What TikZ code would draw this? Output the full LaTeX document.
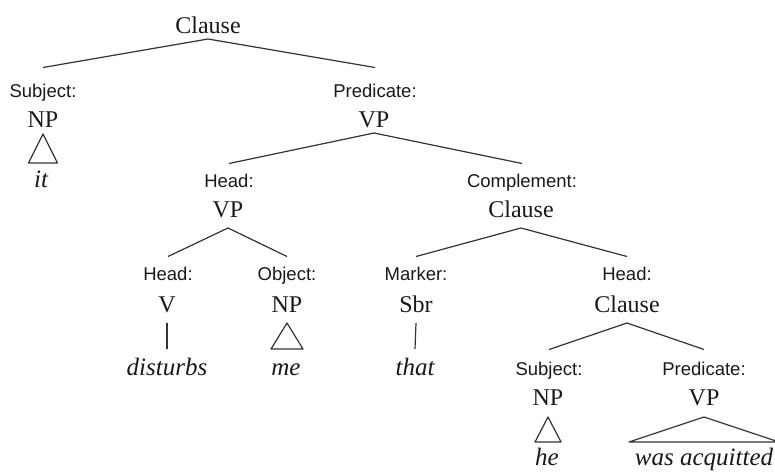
\documentclass[tikz,border=0pt]{standalone}
\usepackage{fontspec}
\setmainfont{Liberation Serif}
\newfontfamily\labfont{Liberation Sans}
\begin{document}
\begin{tikzpicture}[x=1pt,y=-1pt,
  cat/.style={font=\fontsize{24}{28}\selectfont, inner sep=0pt, anchor=base, text=black!90},
  lab/.style={font=\labfont\fontsize{18.5}{22}\selectfont, inner sep=0pt, anchor=base, text height=13.3pt, text=black!90},
  wrd/.style={font=\fontsize{25}{30}\selectfont\itshape, inner sep=0pt, anchor=base, text height=17pt, text=black!90},
  edge/.style={line width=1.2pt, draw=black!80, line join=round}]
\useasboundingbox (0,0) rectangle (775,471);

\node[cat] (A) at (208,33) {Clause};
\node[lab] (Bl) at (43,97) {Subject:};
\node[cat] (B) at (43,127) {NP};
\node[wrd] (Bw) at (41,187) {it};
\node[lab] (Cl) at (375,97) {Predicate:};
\node[cat] (C) at (374,127) {VP};
\node[lab] (Dl) at (229,187) {Head:};
\node[cat] (D) at (228,217) {VP};
\node[lab] (El) at (522,187) {Complement:};
\node[cat] (E) at (521,217) {Clause};
\node[lab] (Fl) at (168,280) {Head:};
\node[cat] (F) at (167,312) {V};
\node[wrd] (Fw) at (167,375) {disturbs};
\node[lab] (Gl) at (287,280) {Object:};
\node[cat] (G) at (287,312) {NP};
\node[wrd] (Gw) at (286,375) {me};
\node[lab] (Hl) at (416,280) {Marker:};
\node[cat] (H) at (416,312) {Sbr};
\node[wrd] (Hw) at (415,375) {that};
\node[lab] (Il) at (627,280) {Head:};
\node[cat] (I) at (627,312) {Clause};
\node[lab] (Jl) at (549,375) {Subject:};
\node[cat] (J) at (548,405) {NP};
\node[wrd] (Jw) at (547,465) {he};
\node[lab] (Kl) at (704,375) {Predicate:};
\node[cat] (K) at (704,405) {VP};
\node[wrd] (Kw) at (704,465) {was acquitted};

\draw[edge] ([yshift=16pt]Bl.north) -- ([yshift=-6pt]A.base) -- ([yshift=16pt]Cl.north);
\draw[edge] ([yshift=10pt]Dl.north) -- ([yshift=-6pt]C.base) -- ([yshift=10pt]El.north);
\draw[edge] ([yshift=10pt]Fl.north) -- ([yshift=-11pt]D.base) -- ([yshift=10pt]Gl.north);
\draw[edge] ([yshift=10pt]Hl.north) -- ([yshift=-11pt]E.base) -- ([yshift=10pt]Il.north);
\draw[edge] ([yshift=12pt]Jl.north) -- ([yshift=-11pt]I.base) -- ([yshift=12pt]Kl.north);

\draw[edge] ([yshift=-11pt]F.base) -- ([yshift=9pt]Fw.north);
\draw[edge] ([yshift=-11pt]H.base) -- ([yshift=9pt]Hw.north);

\draw[edge] ([yshift=-7pt]B.base) -- ++(-14.5,29) -- ++(29,0) -- cycle;
\draw[edge] ([yshift=-11pt]G.base) -- ++(-16,26) -- ++(32,0) -- cycle;
\draw[edge] ([yshift=-12pt]J.base) -- ++(-13,25) -- ++(26,0) -- cycle;
\draw[edge] ([yshift=-12pt]K.base) -- ++(-75,25) -- ++(150,0) -- cycle;
\end{tikzpicture}
\end{document}
